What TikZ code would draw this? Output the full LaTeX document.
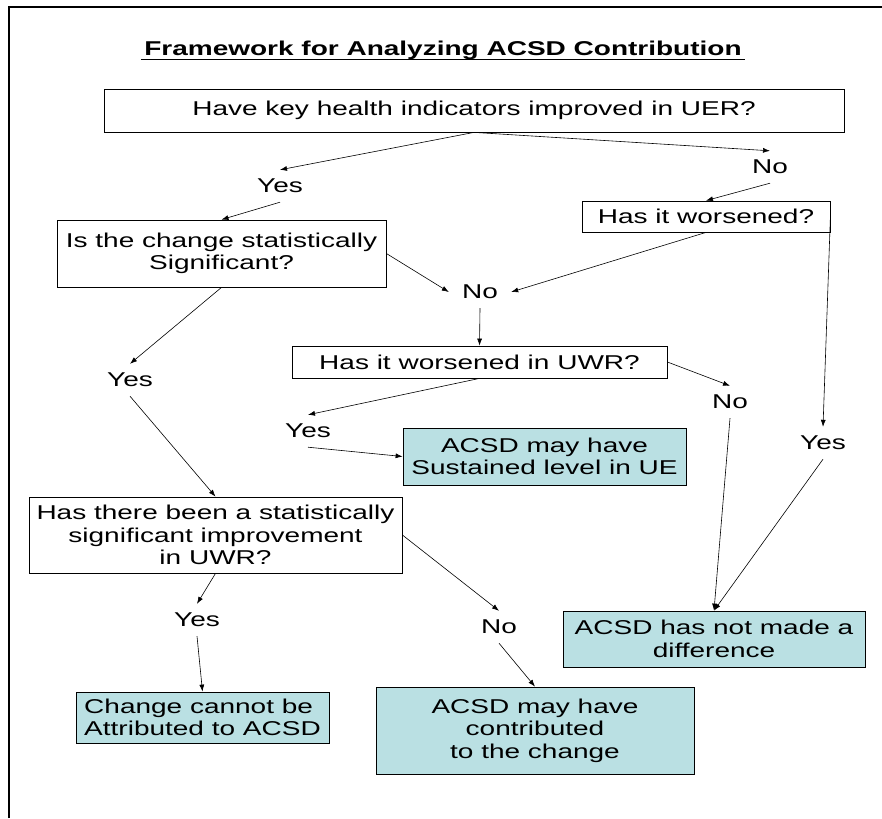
\documentclass[tikz,border=0pt]{standalone}
\usepackage{fontspec}
\setmainfont{Liberation Sans}[FakeStretch=1.4]
\usetikzlibrary{shapes,arrows,arrows.meta,calc,fit}

\definecolor{outcomeblue}{RGB}{186,224,227}
\tikzset{
	question/.style={draw, line width=0.8pt, align=center, inner sep=0pt},
	outcome/.style={question, fill=outcomeblue},
	choice/.style={inner sep=0pt, minimum width=62pt, minimum height=32pt},
	flow/.style={-{Latex[length=7pt,width=5pt]}, line width=0.6pt},
}

\begin{document}
\begin{tikzpicture}[x=1pt, y=-1pt, font=\fontsize{20}{22.5}\selectfont]
	\useasboundingbox (0,0) rectangle (882,818);
	\draw[line width=2pt] (9,818) -- (9,7) -- (882,7);

	\node[anchor=base, font=\fontsize{20}{22.5}\selectfont\bfseries] (title) at (443,56)
		{Framework for Analyzing ACSD Contribution};
	\draw[line width=1.2pt] ($(title.base west)+(0,3.5)$) -- ($(title.base east)+(0,3.5)$);

	% questions
	\node[question, minimum width=740pt, minimum height=43pt] (improved) at (474,110.5)
		{Have key health indicators improved in UER?};
	\node[question, minimum width=248pt, minimum height=31pt] (worse) at (706,216.5)
		{Has it worsened?};
	\node[question, minimum width=329pt, minimum height=67pt] (signif) at (221.5,253.5)
		{Is the change statistically\\Significant?};
	\node[question, minimum width=375pt, minimum height=32pt] (worseuwr) at (479.5,362)
		{Has it worsened in UWR?};
	\node[question, minimum width=373pt, minimum height=76pt] (improveduwr) at (215.5,535)
		{Has there been a statistically\\significant improvement\\in UWR?};

	% outcomes
	\node[outcome, minimum width=283pt, minimum height=57pt] (sustained) at (544.5,456.5)
		{ACSD may have\\Sustained level in UE};
	\node[outcome, minimum width=302pt, minimum height=56pt] (nodiff) at (714,639)
		{ACSD has not made a\\difference};
	\node[outcome, minimum width=253pt, minimum height=51pt, align=left] (notattr) at (202.5,717.5)
		{Change cannot be\\Attributed to ACSD};
	\node[outcome, minimum width=318pt, minimum height=87pt] (contrib) at (535,730.5)
		{ACSD may have\\contributed\\to the change};

	% yes / no
	\node[choice] (yes1) at (280,186) {Yes};
	\node[choice] (no1) at (770,167) {No};
	\node[choice] (no2) at (480,292) {No};
	\node[choice] (yes2) at (130,380) {Yes};
	\node[choice] (yes3) at (308,431) {Yes};
	\node[choice] (no3) at (730,402) {No};
	\node[choice] (yes4) at (823,443) {Yes};
	\node[choice] (yes5) at (197,620) {Yes};
	\node[choice] (no4) at (499,627) {No};

	\foreach \from/\to in {improved.south/yes1.north, improved.south/no1.north,
		no1.south/worse.north, yes1.south/signif.north, signif.east/no2.west,
		worse.south/no2.east, signif.south/yes2.north, no2.south/worseuwr.north,
		worseuwr.south/yes3.north, yes3.south/sustained.west, worseuwr.east/no3.north,
		no3.south/nodiff.north, worse.east/yes4.north, yes4.south/nodiff.north,
		yes2.south/improveduwr.north, improveduwr.south/yes5.north,
		yes5.south/notattr.north, improveduwr.east/no4.north, no4.south/contrib.north}
		\draw[flow] (\from) -- (\to);
\end{tikzpicture}
\end{document}
